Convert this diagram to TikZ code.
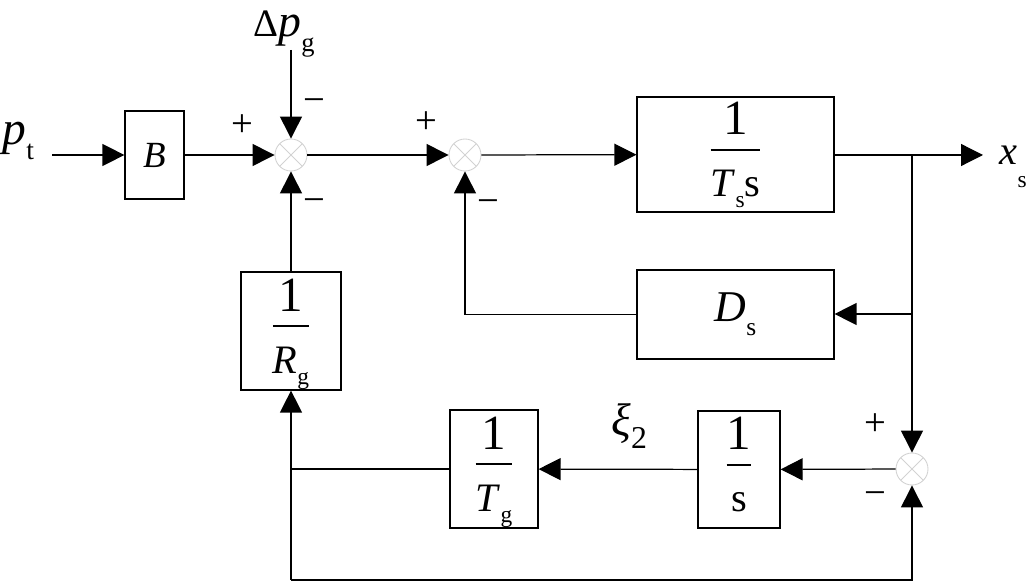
\documentclass[tikz,border=0pt]{standalone}
\usepackage{amsmath}
\usepackage{fontspec}
\setmainfont{Liberation Serif}
\usetikzlibrary{arrows.meta}
\newcommand\lsub[2][0.6ex]{\raisebox{-#1}{\scalebox{0.58}{#2}}}
\newcommand\blockfrac[1]{$\dfrac{\raisebox{-2pt}{\fontsize{28}{30}\selectfont 1}}{\raisebox{-3.5pt}{#1}}$}

\begin{document}
\begin{tikzpicture}[
	x=0.02cm,
	y=-0.02cm,
	line width=0.7pt,
	arr/.style={-{Triangle[length=0.44cm,width=0.44cm]}}
]
\tikzset{
    block/.style = {draw, rectangle, inner sep=0pt, font=\fontsize{23}{28}\selectfont},
    fracblock/.style = {block, text height=12pt, text depth=5.1pt},
    sumnode/.style = {circle, draw=gray!35, line width=0.5pt, minimum size=0.64cm, inner sep=0pt,
        path picture={\draw[gray!35, line width=0.5pt]
            (path picture bounding box.north west) -- (path picture bounding box.south east)
            (path picture bounding box.north east) -- (path picture bounding box.south west);}},
    sign/.style = {font=\fontsize{22}{24}\selectfont, inner sep=0pt},
    lbl/.style = {font=\fontsize{26}{30}\selectfont, inner sep=0pt, anchor=base west},
}
    \useasboundingbox (0,0) rectangle (1029,584);

    % blocks
    \node (B) [block, minimum width=1.18cm, minimum height=1.76cm, font=\fontsize{21}{24}\selectfont] at (154.5,155) {\textit{B}};
    \node (Ts) [fracblock, minimum width=3.94cm, minimum height=2.3cm] at (735.5,154.5) {\blockfrac{\textit{T}\lsub{s}s}};
    \node (Ds) [block, minimum width=3.94cm, minimum height=1.78cm, font=\fontsize{25}{28}\selectfont] at (735.5,314.5) {\textit{D}\lsub[0.7ex]{s}};
    \node (Rg) [fracblock, minimum width=2cm, minimum height=2.36cm] at (291,331) {\blockfrac{\textit{R}\lsub{g}}};
    \node (Tg) [fracblock, minimum width=1.76cm, minimum height=2.36cm] at (494,469) {\blockfrac{\textit{T}\lsub{g}}};
    \node (Is) [fracblock, minimum width=1.64cm, minimum height=2.34cm] at (739,469.5) {\blockfrac{s}};

    % summing points
    \node (s1) [sumnode] at (291,155) {};
    \node (s2) [sumnode] at (465,155) {};
    \node (s3) [sumnode] at (912,469) {};

    % free ends and corners
    \coordinate (in) at (52,155);
    \coordinate (dp) at (291,50);
    \coordinate (out) at (983,155);
    \coordinate (t1) at (912,155);
    \coordinate (t2) at (912,314);
    \coordinate (b1) at (291,469);
    \coordinate (bl) at (291,580);

    % texts
    \node (lpt) [lbl, font=\fontsize{27}{30}\selectfont] at (2,145) {\textit{p}\lsub[0.65ex]{t}};
    \node (ldp) [lbl] at (253,37) {\scalebox{0.85}{Δ}\textit{p}\lsub[0.7ex]{g}};
    \node (lxs) [lbl, font=\fontsize{23}{26}\selectfont] at (999,165) {\textit{x}\lsub[1.2ex]{s}};
    \node (lxi) [lbl] at (611,436) {\textit{ξ}\lsub[0.6ex]{\scalebox{1.2}{2}}};

    \node (p1) [sign] at (242,126) {+};
    \node (m1) [sign] at (314,106) {−};
    \node (m2) [sign] at (314,206) {−};
    \node (p2) [sign] at (426,123) {+};
    \node (m3) [sign] at (488,207) {−};
    \node (p3) [sign] at (875,425) {+};
    \node (m4) [sign] at (875,499) {−};

    % connectors
    \draw[arr] (in) -- (B);
    \draw[arr] (B) -- (s1);
    \draw[arr] (dp) -- (s1);
    \draw[arr] (s1) -- (s2);
    \draw[arr] (s2) -- (Ts);
    \draw[arr] (Ts.east |- out) -- (out);
    \draw[arr] (t1) -- (s3);
    \draw[arr] (t2) -- (Ds.east |- t2);
    \draw[arr] (Ds.west) -| (s2);
    \draw[arr] (s3) -- (Is);
    \draw[arr] (Is) -- (Tg);
    \draw (Tg.west) -- (b1);
    \draw[arr] (bl) -- (Rg);
    \draw[arr] (bl) -| (s3);
    \draw[arr] (Rg) -- (s1);
\end{tikzpicture}
\end{document}
